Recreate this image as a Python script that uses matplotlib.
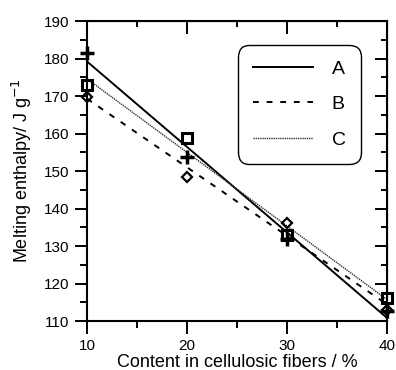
import numpy as np
import matplotlib
matplotlib.use("Agg")
import matplotlib.pyplot as plt
from matplotlib.ticker import MultipleLocator

plt.rcParams['font.family'] = ['Liberation Sans', 'DejaVu Sans']

# data
content = np.array([10, 20, 30, 40])
A = np.array([181.5, 153.8, 132.0, 112.8])
B = np.array([169.8, 148.5, 136.1, 113.0])
C = np.array([172.9, 158.7, 132.9, 116.1])
labels = ['A', 'B', 'C']

fig = plt.figure(figsize=(3.96, 3.70), dpi=100)
ax = fig.add_axes([0.2197, 0.1324, 0.7576, 0.8108])

# linear fits drawn as lines
xf = np.array([10, 40])
styles = [dict(ls='-', lw=1.4, color='black'),
          dict(ls=(0, (3, 4)), lw=1.4, color='black'),
          dict(ls=(0, (1, 0.6)), lw=1.0, color='#333333')]
for y, lab, st in zip([A, B, C], labels, styles):
    p = np.polyfit(content, y, 1)
    ax.plot(xf, np.polyval(p, xf), label=lab, **st)

# markers
ax.plot(content, A, ls='none', marker='+', ms=10, mew=2.5, color='black', clip_on=False)
ax.plot(content, C, ls='none', marker='s', ms=7, mew=2.2, mfc='none', mec='black', clip_on=False)
ax.plot(content, B, ls='none', marker='D', ms=5.5, mew=1.6, mfc='none', mec='black', clip_on=False)

ax.set_xlim(10, 40)
ax.set_ylim(110, 190)
ax.xaxis.set_major_locator(MultipleLocator(10))
ax.xaxis.set_minor_locator(MultipleLocator(5))
ax.yaxis.set_major_locator(MultipleLocator(10))
ax.yaxis.set_minor_locator(MultipleLocator(5))

for s in ax.spines.values():
    s.set_linewidth(1.5)

ax.tick_params(which='both', direction='out', width=1.4, labelsize=11,
               top=False, right=False)
ax.tick_params(which='major', length=9)
ax.tick_params(which='minor', length=5)
ax.tick_params(axis='x', pad=4)

# inward ticks on top and right
axt = ax.secondary_xaxis('top')
axt.xaxis.set_major_locator(MultipleLocator(10))
axt.xaxis.set_minor_locator(MultipleLocator(5))
axt.tick_params(which='both', direction='in', width=1.4, labeltop=False)
axt.tick_params(which='major', length=9)
axt.tick_params(which='minor', length=4)
axr = ax.secondary_yaxis('right')
axr.yaxis.set_major_locator(MultipleLocator(10))
axr.yaxis.set_minor_locator(MultipleLocator(5))
axr.tick_params(which='both', direction='in', width=1.4, labelright=False)
axr.tick_params(which='major', length=9)
axr.tick_params(which='minor', length=4)

ax.set_xlabel('Content in cellulosic fibers / %', fontsize=13, labelpad=1)
ax.set_ylabel(r'Melting enthalpy/ J g$^{-1}$', fontsize=13, labelpad=7)

leg = ax.legend(loc='upper right', bbox_to_anchor=(0.913, 0.92), borderaxespad=0,
                fontsize=14, handlelength=3.1, handletextpad=0.95, labelspacing=0.92,
                borderpad=0.78, fancybox=True, framealpha=1, edgecolor='black')
leg.get_frame().set_linewidth(1.0)
leg.get_frame().set_boxstyle('round', pad=0.0, rounding_size=0.6)

fig.savefig('out.png', dpi=100)
